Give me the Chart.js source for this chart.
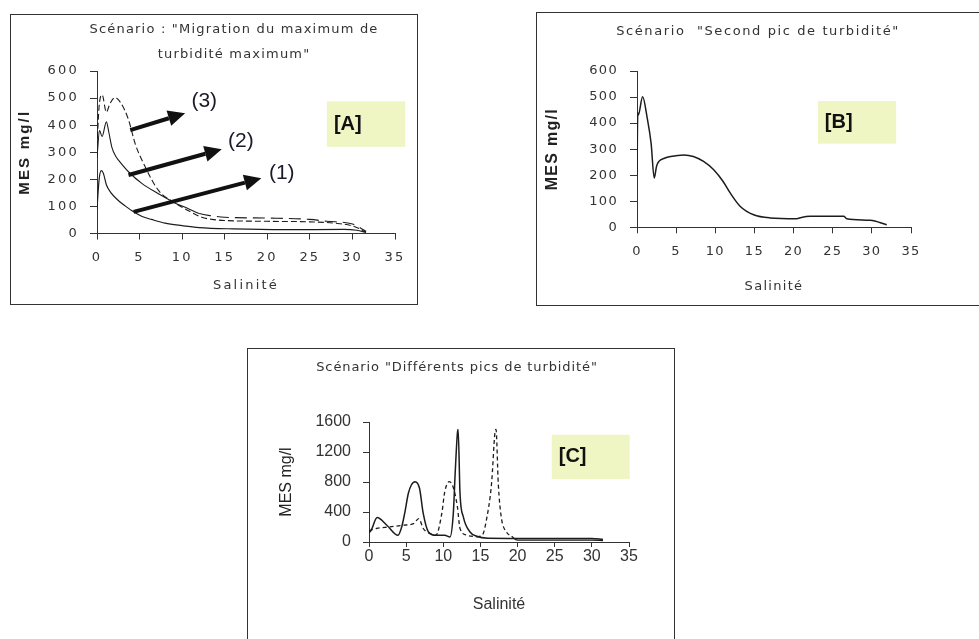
<!DOCTYPE html>
<html>
<head>
<meta charset="utf-8">
<script src="https://cdn.jsdelivr.net/npm/chart.js@4.4.0/dist/chart.umd.min.js"></script>
<style>
  body { margin: 0; background: #fff; width: 979px; height: 639px; position: relative; overflow: hidden; }
  .panel { position: absolute; border: 1px solid #333; background: #fff; }
  .panel canvas { position: absolute; left: 0; top: 0; }
</style>
</head>
<body>
<div class="panel" style="left:10px;top:14px;width:406px;height:289px"><canvas id="chartA" width="406" height="289"></canvas></div>
<div class="panel" style="left:536px;top:12px;width:470px;height:292px"><canvas id="chartB" width="442" height="292"></canvas></div>
<div class="panel" style="left:247px;top:348px;width:426px;height:300px"><canvas id="chartC" width="426" height="291"></canvas></div>
<script>
// ---- [A] Migration du maximum de turbidité : three scenarios (1) (2) (3)
var salA1 = [0, 0.25, 0.5, 0.75, 1.1, 1.6, 2.5, 3.3, 4.2, 5.3, 6.4, 8, 10, 12, 16, 22, 29, 30.5, 31.6];
var mesA1 = [90, 200, 232, 222, 180, 152, 122, 102, 82, 63, 52, 38, 29, 22, 17, 14, 15, 12, 4];
var salA2 = [0, 0.3, 0.6, 1.1, 1.4, 1.75, 2.2, 2.5, 3.7, 5.3, 7.2, 9.2, 10.5, 12, 13.5, 15, 20, 25, 27, 30, 31.6];
var mesA2 = [280, 380, 358, 412, 372, 318, 285, 272, 228, 184, 147, 112, 95, 74, 65, 60, 57, 52, 45, 35, 8];
var salA3 = [0, 0.25, 0.6, 1.1, 1.5, 2.1, 2.8, 3.7, 4.5, 5.6, 7.2, 9.2, 10.5, 12.3, 13.5, 15, 20, 25, 28, 30, 31.6];
var mesA3 = [320, 470, 512, 448, 478, 502, 482, 420, 330, 250, 160, 112, 88, 60, 52, 48, 45, 43, 38, 28, 6];

// ---- [B] Second pic de turbidité
var salB = [0, 0.1, 0.15, 0.72, 1.3, 1.8, 2.2, 2.5, 2.8, 3.5, 4.3, 6, 7.2, 8.5, 9.8, 11, 11.9, 13.2, 14.9, 17, 20.4, 21, 22.1, 24.6, 26.4, 26.8, 29.8, 31.9];
var mesB = [200, 440, 430, 501, 420, 323, 189, 235, 253, 265, 272, 278, 272, 253, 221, 176, 132, 80, 48, 36, 33, 38, 42, 42, 42, 33, 27, 10];

// ---- [C] Différents pics de turbidité
var salC1 = [0, 0.3, 1.1, 2.4, 3.9, 4.4, 4.8, 5.3, 5.7, 6.2, 6.8, 7.3, 8.0, 9.0, 10.2, 10.9, 11.35, 11.6, 11.9, 12.0, 12.25, 12.7, 13.6, 14.5, 16, 20, 25, 30, 31.5];
var mesC1 = [120, 160, 327, 224, 90, 200, 381, 650, 760, 804, 716, 381, 134, 90, 90, 67, 381, 917, 1453, 1500, 649, 335, 134, 76, 50, 48, 48, 48, 32];
var salC2 = [0, 1.0, 2.8, 4.6, 6.0, 6.7, 7.3, 8.3, 9.0, 9.8, 10.2, 10.8, 11.3, 11.9, 12.25, 13.2, 14.5];
var mesC2 = [150, 180, 201, 224, 246, 313, 180, 110, 90, 381, 671, 805, 740, 470, 180, 90, 67];
var salC3 = [14.5, 15.3, 15.8, 16.5, 16.95, 17.1, 17.4, 17.8, 18.5, 19.2, 20, 25, 30, 31.5];
var mesC3 = [67, 100, 291, 783, 1453, 1500, 783, 335, 134, 76, 25, 25, 25, 20];

var salTicks = [0, 5, 10, 15, 20, 25, 30, 35];

function points(xs, ys) {
    return xs.map(function(x, i) { return { x: x, y: ys[i] }; });
}

// letter spacing for all the chart's own text (ticks, axis titles)
var spacingPlugin = {
    id: 'spacing',
    beforeUpdate: function(chart, args, opts) { chart.ctx.letterSpacing = (opts.px || 0) + 'px'; },
    beforeDraw: function(chart, args, opts) { chart.ctx.letterSpacing = (opts.px || 0) + 'px'; }
};

// titles, [A]/[B]/[C] tags, arrows and (n) labels
var decorPlugin = {
    id: 'decor',
    afterDraw: function(chart, args, o) {
        var ctx = chart.ctx, sx = chart.scales.x, sy = chart.scales.y;
        function px(p) { return [sx.getPixelForValue(p[0]), sy.getPixelForValue(p[1])]; }
        ctx.save();
        ctx.letterSpacing = o.titleSpacing + 'px';
        ctx.font = o.titleFont;
        ctx.fillStyle = '#333';
        ctx.textAlign = 'center';
        ctx.textBaseline = 'middle';
        o.title.forEach(function(t, i) { ctx.fillText(t, o.titleX, o.titleY + i * o.titleGap); });
        ctx.letterSpacing = '0px';

        var a = px(o.tag.from), b = px(o.tag.to);
        ctx.fillStyle = '#eff6c4';
        ctx.fillRect(a[0], a[1], b[0] - a[0], b[1] - a[1]);
        ctx.fillStyle = '#111';
        ctx.font = 'bold 20px "Liberation Sans"';
        ctx.textAlign = 'left';
        ctx.fillText(o.tag.text, a[0] + 7, (a[1] + b[1]) / 2);

        (o.arrows || []).forEach(function(ar) {
            var s = px(ar.from), e = px(ar.to);
            var ang = Math.atan2(e[1] - s[1], e[0] - s[0]);
            var hl = 17, hw = 8;
            var bx = e[0] - hl * Math.cos(ang), by = e[1] - hl * Math.sin(ang);
            ctx.strokeStyle = '#111';
            ctx.lineWidth = 4;
            ctx.beginPath();
            ctx.moveTo(s[0], s[1]);
            ctx.lineTo(bx, by);
            ctx.stroke();
            ctx.fillStyle = '#111';
            ctx.beginPath();
            ctx.moveTo(e[0], e[1]);
            ctx.lineTo(bx + hw * Math.sin(ang), by - hw * Math.cos(ang));
            ctx.lineTo(bx - hw * Math.sin(ang), by + hw * Math.cos(ang));
            ctx.closePath();
            ctx.fill();
        });
        ctx.font = '21px "Liberation Sans"';
        ctx.textAlign = 'center';
        (o.labels || []).forEach(function(l) {
            var p = px(l.at);
            ctx.fillStyle = '#1a1a2a';
            ctx.fillText(l.text, p[0], p[1]);
        });
        ctx.restore();
    }
};

function line(xs, ys, dash, width, extra) {
    var ds = {
        data: points(xs, ys),
        borderColor: '#1c1c1c',
        borderWidth: width,
        borderDash: dash,
        pointRadius: 0,
        fill: false,
        cubicInterpolationMode: 'monotone'
    };
    return Object.assign(ds, extra || {});
}

function plain(v) { return String(v); }

function makeScales(s) {
    var tickFont = { family: s.family, size: s.tickSize, lineHeight: s.tickLH };
    return {
        x: {
            type: 'linear', min: 0, max: 35,
            afterBuildTicks: function(scale) { scale.ticks = salTicks.map(function(v) { return { value: v }; }); },
            afterFit: function(scale) { scale.height = s.xH; },
            grid: { drawOnChartArea: false, tickLength: s.xTick, color: '#333' },
            border: { color: '#333', width: 1 },
            ticks: { color: '#333', font: tickFont, padding: s.xPad, maxRotation: 0, callback: plain },
            title: { display: true, text: 'Salinité', color: '#333',
                     font: { family: s.family, size: s.xTitleSize }, padding: { top: 0, bottom: s.xTitlePad } }
        },
        y: {
            min: 0, max: s.yMax,
            afterBuildTicks: function(scale) { scale.ticks = s.yTicks.map(function(v) { return { value: v }; }); },
            afterFit: function(scale) { scale.width = s.yW; },
            grid: { drawOnChartArea: false, tickLength: s.yTick, color: '#333' },
            border: { color: '#333', width: 1 },
            ticks: { color: '#333', font: tickFont, padding: s.yPad, callback: plain },
            title: { display: true, text: 'MES mg/l', color: '#222',
                     font: { family: 'Liberation Sans', size: s.yTitleSize, weight: s.yTitleWeight },
                     padding: { top: s.yTitlePad, bottom: 0 } }
        }
    };
}

function build(id, datasets, layout, scaleSpec, spacing, decor) {
    return new Chart(document.getElementById(id), {
        type: 'line',
        data: { datasets: datasets },
        options: {
            responsive: false,
            animation: false,
            layout: { padding: layout },
            plugins: { legend: { display: false }, tooltip: { enabled: false }, spacing: { px: spacing }, decor: decor },
            scales: makeScales(scaleSpec)
        },
        plugins: [spacingPlugin, decorPlugin]
    });
}

build('chartA', [
    line(salA1, mesA1, [], 1.2),
    line(salA2, mesA2, [], 1.1, { segment: { borderDash: function(c) { return c.p0.parsed.x >= 12 ? [12, 6] : undefined; } } }),
    line(salA3, mesA3, [6, 3], 1.1)
], { left: 0, right: 22, top: 56, bottom: 0 }, {
    family: 'DejaVu Sans', tickSize: 13, tickLH: 1.2, xH: 70.5, xTick: 6, xPad: 10, xTitleSize: 13, xTitlePad: 11,
    yMax: 600, yTicks: [0, 100, 200, 300, 400, 500, 600], yW: 86, yTick: 7, yPad: 11,
    yTitleSize: 15, yTitleWeight: 'bold', yTitlePad: 5
}, 2.2, {
    title: ['Scénario : "Migration du maximum de', 'turbidité maximum"'],
    titleX: 223, titleY: 15, titleGap: 25, titleFont: '13px "DejaVu Sans"', titleSpacing: 1.2,
    tag: { text: '[A]', from: [27, 488], to: [36.2, 320] },
    arrows: [
        { from: [3.9, 382], to: [10.35, 444] },
        { from: [3.7, 216], to: [14.65, 311] },
        { from: [4.3, 80], to: [19.3, 204] }
    ],
    labels: [
        { text: '(3)', at: [12.6, 487] },
        { text: '(2)', at: [16.9, 339] },
        { text: '(1)', at: [21.7, 222] }
    ]
});

build('chartB', [
    line(salB, mesB, [], 1.5)
], { left: 0, right: 68, top: 58, bottom: 0 }, {
    family: 'DejaVu Sans', tickSize: 13, tickLH: 1.2, xH: 77.7, xTick: 6, xPad: 11, xTitleSize: 13, xTitlePad: 10.5,
    yMax: 600, yTicks: [0, 100, 200, 300, 400, 500, 600], yW: 100, yTick: 7, yPad: 12,
    yTitleSize: 16, yTitleWeight: 'bold', yTitlePad: 6.4
}, 1.3, {
    title: ['Scénario  "Second pic de turbidité"'],
    titleX: 221, titleY: 19, titleGap: 0, titleFont: '13px "DejaVu Sans"', titleSpacing: 1.6,
    tag: { text: '[B]', from: [23.1, 485], to: [33.1, 321] }
});

build('chartC', [
    line(salC1, mesC1, [], 1.5),
    line(salC2, mesC2, [4, 3], 1.3),
    line(salC3, mesC3, [4, 3], 1.3, { segment: { borderDash: function(c) { return c.p0.parsed.x >= 19.2 ? [] : undefined; } } })
], { left: 0, right: 45, top: 73, bottom: 0 }, {
    family: 'Liberation Sans', tickSize: 16, tickLH: 1, xH: 98, xTick: 5, xPad: 2, xTitleSize: 16, xTitlePad: 26,
    yMax: 1600, yTicks: [0, 400, 800, 1200, 1600], yW: 121, yTick: 6, yPad: 12,
    yTitleSize: 16, yTitleWeight: 'normal', yTitlePad: 29
}, 0, {
    title: ['Scénario "Différents pics de turbidité"'],
    titleX: 209, titleY: 19, titleGap: 0, titleFont: '13px "DejaVu Sans"', titleSpacing: 0.9,
    tag: { text: '[C]', from: [24.6, 1430], to: [35.1, 840] }
});
</script>
</body>
</html>
